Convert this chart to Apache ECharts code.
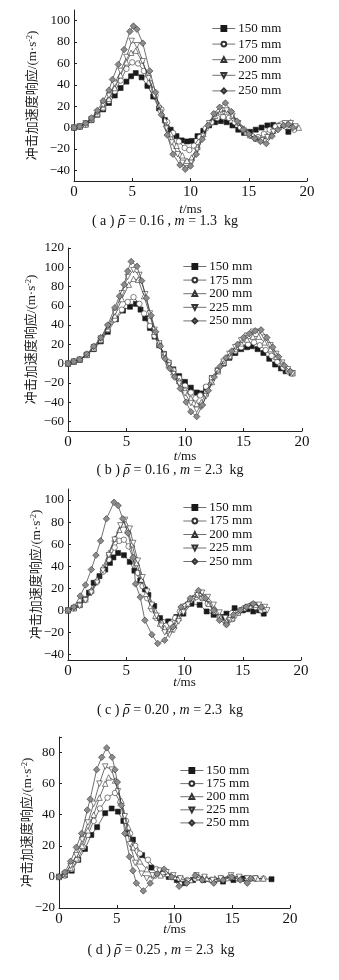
<!DOCTYPE html>
<html><head><meta charset="utf-8">
<script src="https://cdn.jsdelivr.net/npm/echarts@6/dist/echarts.min.js"></script>
<style>html,body{margin:0;padding:0;background:#fff}#c{width:339px;height:980px}</style>
</head><body><div id="c"></div>
<script>
// ---------- DATA ----------
const seriesNames = ['150 mm','175 mm','200 mm','225 mm','250 mm'];
const xTicks = [0,5,10,15,20];
const yTicksA = [-40,-20,0,20,40,60,80,100];
const yTicksB = [-60,-40,-20,0,20,40,60,80,100,120];
const yTicksC = [-40,-20,0,20,40,60,80,100];
const yTicksD = [-20,0,20,40,60,80];
const captionLetters = ['a', 'b', 'c', 'd'];
const rhoValues = ['0.16','0.16','0.20','0.25'];
const massValues = ['1.3','2.3','2.3','2.3'];

// Panel (a): rho=0.16, m=1.3 kg  [t(ms), acceleration(m/s^2)]
const A150 = [[0,0],[0.5,1],[1,3],[1.5,7],[2,12],[2.5,17],[3,23],[3.5,30],[4,37],[4.5,43],[4.9,48],[5.3,51],[5.8,47],[6.3,39],[6.8,29],[7.3,18],[7.8,7],[8.3,-2],[8.8,-8],[9.25,-12],[9.7,-13],[10.1,-12.5],[10.6,-8],[11.1,-3],[11.6,2],[12.1,5],[12.6,6],[13.1,5],[13.6,2],[14.1,-2],[14.6,-5],[15.1,-4],[15.6,-2],[16.1,0],[16.6,2],[17.1,2.5],[17.7,2],[18.4,-4]];
const A175 = [[0,0],[0.5,1],[1,3],[1.5,7],[2,12],[2.5,18],[3,25],[3.5,34],[4,44],[4.5,55],[5,61],[5.5,60],[6,53],[6.5,42],[7,30],[7.5,17],[8,5],[8.5,-5],[9,-13],[9.5,-19],[9.9,-21],[10.3,-17],[10.8,-9],[11.3,-1],[11.8,5],[12.3,9],[12.8,10],[13.3,9],[13.8,5],[14.3,0],[14.8,-5],[15.3,-8],[15.8,-9],[16.3,-6],[16.8,-2],[17.3,1],[17.8,3],[18.3,2],[18.9,-2]];
const A200 = [[0,0],[0.5,1],[1,3],[1.5,8],[2,13],[2.5,19],[3,27],[3.5,37],[4,49],[4.5,61],[4.9,70],[5.3,72],[5.8,63],[6.3,50],[6.8,36],[7.3,21],[7.8,7],[8.3,-6],[8.8,-17],[9.3,-26],[9.7,-31],[10.1,-28],[10.6,-18],[11.1,-6],[11.6,4],[12.1,11],[12.6,15],[13.1,15],[13.6,11],[14.1,5],[14.6,-1],[15.1,-7],[15.6,-10],[16.1,-11],[16.6,-8],[17.1,-3],[17.6,1],[18.1,4],[18.6,5],[19.3,0]];
const A225 = [[0,0],[0.5,1],[1,4],[1.5,8],[2,14],[2.5,21],[3,30],[3.5,41],[4,53],[4.5,66],[4.95,81],[5.4,77],[5.9,62],[6.4,46],[6.9,30],[7.4,14],[7.9,-1],[8.4,-14],[8.9,-25],[9.3,-33],[9.65,-38],[10.1,-33],[10.6,-21],[11.1,-8],[11.6,4],[12.1,12],[12.6,16],[13.1,16],[13.6,11],[14.1,4],[14.6,-3],[15.1,-8],[15.6,-11],[16.1,-12],[16.6,-9],[17.1,-4],[17.6,1],[18.1,4],[18.6,4],[19,1]];
const A250 = [[0,0],[0.5,1],[1,4],[1.5,9],[2,16],[2.5,25],[3,35],[3.3,45],[3.8,59],[4.3,73],[4.8,90],[5.1,95],[5.4,92],[5.9,79],[6.5,53],[7,33],[7.5,12],[8,-7],[8.5,-25],[9.1,-35],[9.55,-39],[10,-36],[10.5,-25],[11,-11],[11.5,2],[12,13],[12.5,19],[13,23],[13.5,15],[14,6],[14.5,-2],[15,-6],[15.5,-10],[16,-13],[16.5,-15],[17,-8],[17.5,-2],[18,2],[18.4,3],[18.8,0]];

// Panel (b): rho=0.16, m=2.3 kg
const B150 = [[0,0],[0.5,2],[1,4],[1.6,9],[2.2,15],[2.8,23],[3.4,33],[4.1,46],[4.7,55],[5.3,59],[5.8,62],[6.2,56],[6.6,47],[7,37],[7.4,28],[7.8,19],[8.2,10],[8.6,1],[9,-6],[9.5,-13],[10,-19],[10.5,-25],[11,-30],[11.4,-31],[11.8,-25],[12.3,-15],[12.8,-7],[13.3,0],[13.8,6],[14.3,11],[14.8,15],[15.3,17],[15.7,18],[16.2,15],[16.7,11],[17.2,5],[17.7,-1],[18.2,-5],[18.6,-8],[19.1,-10]];
const B175 = [[0,0],[0.5,2],[1,4],[1.6,9],[2.2,16],[2.8,24],[3.4,35],[4,46],[4.6,56],[5.1,64],[5.6,69],[6.1,62],[6.5,52],[7,39],[7.4,29],[7.8,19],[8.2,10],[8.6,1],[9,-7],[9.5,-15],[10,-23],[10.5,-30],[10.9,-36],[11.3,-33],[11.8,-24],[12.3,-15],[12.8,-7],[13.3,1],[13.8,7],[14.3,13],[14.8,17],[15.4,20],[15.9,22],[16.4,19],[16.9,14],[17.4,8],[17.9,2],[18.4,-4],[18.8,-8],[19.2,-10]];
const B200 = [[0,0],[0.5,2],[1,4],[1.6,9],[2.2,16],[2.8,25],[3.4,36],[4,50],[4.6,67],[5.2,82],[5.6,88],[6,87],[6.5,70],[7,50],[7.4,33],[7.8,20],[8.2,9],[8.6,-1],[9,-9],[9.5,-18],[10,-27],[10.5,-36],[11,-42],[11.4,-40],[11.8,-31],[12.3,-19],[12.8,-8],[13.3,1],[13.8,8],[14.3,15],[14.8,21],[15.3,25],[15.8,28],[16.3,28],[16.8,22],[17.3,15],[17.8,7],[18.3,0],[18.8,-6],[19.2,-10]];
const B225 = [[0,0],[0.5,2],[1,4],[1.6,9],[2.2,17],[2.8,26],[3.4,38],[4,53],[4.6,73],[5.1,90],[5.6,97],[6.1,92],[6.6,72],[7,52],[7.4,35],[7.8,21],[8.2,9],[8.6,-2],[9,-11],[9.5,-21],[10,-31],[10.5,-41],[11,-48],[11.4,-45],[11.8,-34],[12.3,-20],[12.8,-8],[13.3,2],[13.8,10],[14.3,17],[14.8,24],[15.3,29],[15.8,33],[16.3,33],[16.8,27],[17.3,19],[17.8,10],[18.3,1],[18.8,-6],[19.2,-10]];
const B250 = [[0,0],[0.5,2],[1,4],[1.6,10],[2.2,18],[2.8,27],[3.4,40],[4,58],[4.4,70],[4.8,82],[5.1,96],[5.4,106],[5.9,101],[6.3,86],[6.7,68],[7.1,50],[7.5,33],[7.9,18],[8.3,5],[8.7,-5],[9.1,-14],[9.6,-26],[10.1,-40],[10.5,-50],[11,-55],[11.5,-43],[12,-28],[12.5,-14],[13,-3],[13.5,6],[14,13],[14.5,20],[15,27],[15.5,31],[16,34],[16.5,35],[17,27],[17.5,17],[18,7],[18.5,-2],[19,-8]];

// Panel (c): rho=0.20, m=2.3 kg
const C150 = [[0,0],[0.5,2],[1,5],[1.4,10],[1.8,16],[2.2,25],[2.7,31],[3.2,37],[3.6,43],[3.9,48],[4.3,52],[4.8,50],[5.3,44],[5.7,36],[6.2,27],[6.6,19],[6.9,14],[7.4,4],[7.9,-7],[8.6,-10],[9.3,-6],[9.9,-3],[10.6,6],[11.3,5],[11.9,-1],[12.5,-4],[13.2,-6],[13.6,-3],[14.3,2],[15,0],[15.4,1],[15.9,-1],[16.4,0],[16.8,-3]];
const C175 = [[0,0],[0.5,2],[1,5],[1.5,10],[2,17],[2.5,26],[3,35],[3.5,46],[4,57],[4.4,63],[4.8,64],[5.2,58],[5.6,47],[6,34],[6.4,22],[6.8,11],[7.2,1],[7.6,-7],[8,-12],[8.4,-14],[8.8,-12],[9.2,-7],[9.6,-1],[10,4],[10.5,9],[11,12],[11.5,11],[12,6],[12.5,0],[13,-6],[13.6,-12],[14.1,-8],[14.6,-2],[15.1,2],[15.6,4],[16.1,3],[16.6,0]];
const C200 = [[0,0],[0.5,2],[1,5],[1.5,10],[2,18],[2.5,28],[3,39],[3.5,52],[4,65],[4.4,73],[4.8,78],[5.1,73],[5.5,60],[5.9,43],[6.3,28],[6.7,15],[7.1,4],[7.5,-5],[7.9,-12],[8.3,-16],[8.7,-18],[9.1,-14],[9.5,-7],[9.9,0],[10.3,6],[10.7,11],[11.1,14],[11.6,12],[12.1,6],[12.6,-1],[13.1,-7],[13.6,-10],[14.1,-7],[14.6,-2],[15.1,2],[15.6,4],[16.1,5],[16.5,3],[16.9,1]];
const C225 = [[0,0],[0.5,2],[1,4],[1.5,9],[2,16],[2.5,25],[3,36],[3.5,50],[4,64],[4.5,77],[4.9,82],[5.3,74],[5.6,61],[6,45],[6.4,30],[6.8,17],[7.2,5],[7.6,-5],[8,-14],[8.3,-20],[8.7,-22],[9.1,-18],[9.5,-10],[9.9,-2],[10.3,5],[10.7,10],[11.1,14],[11.5,16],[12,12],[12.5,5],[13,-2],[13.5,-7],[13.9,-9],[14.4,-5],[14.9,0],[15.4,3],[15.9,5],[16.4,5],[16.9,3],[17.1,0]];
const C250 = [[0,0],[0.5,3],[1.05,13],[1.5,23],[2,37],[2.4,50],[2.8,63],[3.3,83],[3.95,98],[4.3,95],[4.7,83],[5.15,70],[5.6,48],[5.8,24],[6.2,12],[6.6,-9],[7.2,-22],[7.7,-30],[8.3,-27],[9,-15],[9.7,3],[10.5,11],[11.2,18],[11.8,11],[12.5,0],[13,-9],[13.6,-13],[14.2,-4],[14.8,0],[15.3,3],[15.9,6],[16.6,3]];

// Panel (d): rho=0.25, m=2.3 kg
const D150 = [[0,0],[0.5,1],[1.1,4],[1.67,11],[2.25,18],[2.8,27],[3.3,32],[4,41],[4.56,44],[5.1,42],[5.57,36],[5.9,28],[6.4,24],[7.2,14],[8,6],[8.7,3],[9.5,0],[10.2,-2],[10.9,-4],[11.6,-2],[12.5,-2],[13.4,-2],[14.2,-3],[15.1,-2],[16,-1],[17,-1],[18.4,-1.5]];
const D175 = [[0,0],[0.5,1],[1.1,5],[1.6,11],[2.1,19],[2.5,27],[3,36],[3.55,44],[4.2,51],[4.85,54],[5.3,48],[5.8,36],[6.15,28],[6.6,20],[7,15],[7.7,11],[8.45,5],[9,2],[9.7,0],[10.4,-1],[11.1,-2],[11.8,-1],[12.5,-1],[13.2,-2],[14,-1],[14.8,0],[15.5,-1],[16.3,-1],[17,-1],[17.7,-1]];
const D200 = [[0,0],[0.5,2],[1,6],[1.5,12],[2,20],[2.5,30],[3,40],[3.5,51],[4,60],[4.3,64],[4.85,62],[5.4,49],[6,32],[6.4,19],[7,10],[7.6,5],[8.2,1],[8.8,1],[9.4,2],[10,0],[10.7,-1],[11.4,-2],[12.1,0],[12.8,-1],[13.5,-1],[14.2,-1],[15,0],[15.7,-1],[16.5,-1],[17.2,-1],[17.7,-1]];
const D225 = [[0,0],[0.5,2],[1,7],[1.5,14],[2,24],[2.5,35],[3,47],[3.5,60],[4,71],[4.56,69],[5.1,55],[5.7,39],[6.15,21],[6.6,9],[7.15,2],[7.6,-1],[8.1,1],[8.7,4],[9.3,3],[9.9,1],[10.5,-1],[11.2,-3],[11.9,1],[12.6,0],[13.3,-2],[14,-1],[14.9,1],[15.6,0],[16.3,-1],[17,-1]];
const D250 = [[0,0],[0.5,3],[1,10],[1.5,19],[1.96,28],[2.45,43],[2.7,50],[3.26,69],[3.7,77],[4.13,83],[4.6,77],[4.85,69],[5.05,61],[5.4,46],[5.7,28],[6.1,13],[6.4,4],[6.7,-4],[7.3,-9],[7.9,-4],[8.5,2],[9.1,5],[9.75,0],[10.4,-6],[11.05,-4],[11.8,1],[12.4,-2],[13.4,-4],[14.2,-2],[14.95,0],[15.7,-2],[16.3,-4],[16.6,-1]];

const panelData = [[A150,A175,A200,A225,A250],[B150,B175,B200,B225,B250],[C150,C175,C200,C225,C250],[D150,D175,D200,D225,D250]];
const yTickSets = [yTicksA, yTicksB, yTicksC, yTicksD];

// ---------- LAYOUT / STYLE ----------
const SERIF = "'Liberation Serif','Times New Roman','Noto Sans CJK SC',serif";
const layout = [
  {left:74, top:10,  width:233, height:171, ymin:-50, ymax:110, nameGap:34, xNameGap:22, legLeft:207, legTop:17,  legGap:2.6, capX:165, capY:221, extraTick:[]},
  {left:68, top:248, width:234, height:183, ymin:-70, ymax:120, nameGap:29, xNameGap:19, legLeft:178, legTop:255, legGap:0.6, capX:170, capY:470, extraTick:[]},
  {left:68, top:489, width:233, height:171, ymin:-45, ymax:110, nameGap:24, xNameGap:16, legLeft:178, legTop:496, legGap:0.5, capX:170, capY:710, extraTick:[]},
  {left:59, top:737, width:231, height:171, ymin:-20, ymax:90,  nameGap:24, xNameGap:15, legLeft:175, legTop:759, legGap:0.1, capX:161, capY:950, extraTick:[90]}
];
const markers = [
  {symbol:'rect', size:5, rotate:0, fill:'#1a1a1a', border:'#1a1a1a'},
  {symbol:'circle', size:5.5, rotate:0, fill:'#fff', border:'#333'},
  {symbol:'triangle', size:5.5, rotate:0, fill:'#fff', border:'#333'},
  {symbol:'triangle', size:5.5, rotate:180, fill:'#fff', border:'#333'},
  {symbol:'diamond', size:6.5, rotate:0, fill:'#8c8c8c', border:'#333'}
];

// text measurement (for the macron over rho in the captions)
const mctx = document.createElement('canvas').getContext('2d');
function tw(str, italic){ mctx.font = (italic?'italic ':'') + '14px ' + SERIF; return mctx.measureText(str).width; }

const grid=[], xAxis=[], yAxis=[], series=[], legend=[], graphic=[];
layout.forEach((L,i)=>{
  grid.push({left:L.left, top:L.top, width:L.width, height:L.height, containLabel:false});
  xAxis.push({
    type:'value', gridIndex:i, min:0, max:20, interval:5,
    axisLine:{show:true, onZero:false, lineStyle:{color:'#222', width:1}},
    axisTick:{show:true, inside:true, length:3, lineStyle:{color:'#222'}},
    axisLabel:{show:true, margin:4, color:'#111', fontFamily:SERIF, fontSize:15,
               customValues:xTicks},
    splitLine:{show:false},
    name:'{i|t}/ms', nameLocation:'middle', nameGap:L.xNameGap, nameMoveOverlap:false,
    nameTextStyle:{color:'#111', fontFamily:SERIF, fontSize:13,
                   rich:{i:{fontStyle:'italic', fontFamily:SERIF, fontSize:13, color:'#111'}}}
  });
  yAxis.push({
    type:'value', gridIndex:i, min:L.ymin, max:L.ymax,
    axisLine:{show:true, onZero:false, lineStyle:{color:'#222', width:1}},
    axisTick:{show:true, inside:true, length:3, lineStyle:{color:'#222'},
              customValues: yTickSets[i].concat(L.extraTick)},
    axisLabel:{show:true, margin:4, color:'#111', fontFamily:SERIF, fontSize:13,
               customValues: yTickSets[i],
               formatter:v=> v<0 ? '\u2212'+Math.abs(v) : String(v)},
    splitLine:{show:false},
    name:'冲击加速度响应/(m·s{s|-2})', nameLocation:'middle', nameGap:L.nameGap, nameMoveOverlap:false,
    nameTextStyle:{color:'#222', fontFamily:SERIF, fontSize:13,
                   rich:{s:{fontSize:8, fontFamily:SERIF, color:'#222', verticalAlign:'top', padding:[0,0,6,0]}}}
  });
  panelData[i].forEach((arr,k)=>{
    const M = markers[k];
    series.push({
      type:'line', name:seriesNames[k], xAxisIndex:i, yAxisIndex:i,
      data:arr, symbol:M.symbol, symbolSize:M.size, symbolRotate:M.rotate,
      showAllSymbol:true, smooth:false,
      lineStyle:{color:'#333', width:0.7},
      itemStyle:{color:M.fill, borderColor:M.border, borderWidth:0.6},
      emphasis:{disabled:true}, z: 2+k
    });
  });
  legend.push({
    orient:'vertical', left:L.legLeft, top:L.legTop, itemGap:L.legGap,
    itemWidth:23, itemHeight:6, data:seriesNames, selectedMode:false,
    textStyle:{fontFamily:SERIF, fontSize:13, color:'#111', padding:[0,0,0,-2]},
    lineStyle:{color:'#333', width:0.7}
  });
  // caption: "( a ) ρ̄ = 0.16 , m = 1.3  kg"
  const pre = '( '+captionLetters[i]+' ) ';
  const post1 = ' = ' + rhoValues[i] + ' , ';
  const post2 = ' = ' + massValues[i] + '  kg';
  const wPre = tw(pre,false), wRho = tw('ρ',true), wTot = wPre + wRho + tw(post1,false) + tw('m',true) + tw(post2,false);
  graphic.push({
    type:'text', x:L.capX, y:L.capY,
    style:{
      align:'center', verticalAlign:'middle',
      text: pre + '{r|ρ}' + post1 + '{i|m}' + post2,
      font:"14px "+SERIF, fill:'#111',
      rich:{r:{fontStyle:'italic', fontSize:14, fontFamily:SERIF}, i:{fontStyle:'italic', fontSize:14, fontFamily:SERIF}}
    }
  });
  const rx0 = L.capX - wTot/2 + wPre;
  graphic.push({
    type:'line', shape:{x1:rx0+2, y1:L.capY-5.5, x2:rx0+wRho+1, y2:L.capY-5.5},
    style:{stroke:'#111', lineWidth:0.9}
  });
});

const chart = echarts.init(document.getElementById('c'), null, {renderer:'canvas'});
chart.setOption({
  animation:false, backgroundColor:'#fff',
  grid, xAxis, yAxis, series, legend, graphic
});
</script></body></html>
